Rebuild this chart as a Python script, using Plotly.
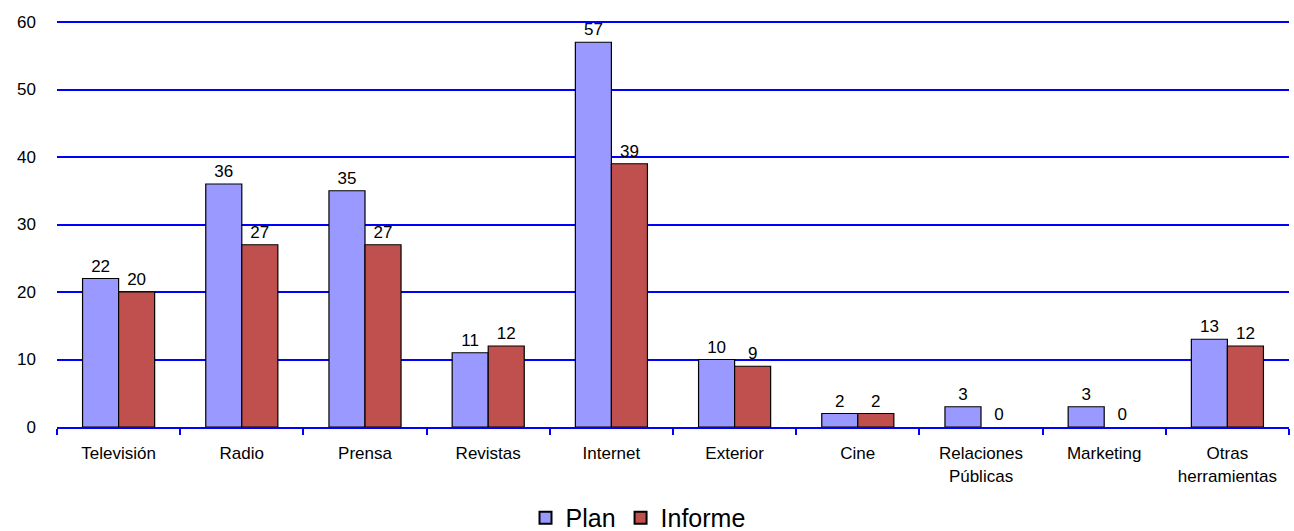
import plotly.graph_objects as go

categorias = ["Televisión", "Radio", "Prensa", "Revistas", "Internet", "Exterior",
              "Cine", "Relaciones<br>Públicas", "Marketing", "Otras<br>herramientas"]
plan = [22, 36, 35, 11, 57, 10, 2, 3, 3, 13]
informe = [20, 27, 27, 12, 39, 9, 2, 0, 0, 12]

FONT = "Liberation Sans, Arial, sans-serif"


def outline_widths(values):
    # no outline for empty bars
    return [1.2 if v else 0 for v in values]


fig = go.Figure()
fig.add_trace(go.Bar(
    x=categorias, y=plan, name="Plan",
    marker=dict(color="#9999FF", line=dict(color="#000000", width=outline_widths(plan))),
    text=plan, textposition="outside", cliponaxis=False,
    textfont=dict(family=FONT, size=17, color="#000000"),
))
fig.add_trace(go.Bar(
    x=categorias, y=informe, name="Informe",
    marker=dict(color="#C0504D", line=dict(color="#000000", width=outline_widths(informe))),
    text=informe, textposition="outside", cliponaxis=False,
    textfont=dict(family=FONT, size=17, color="#000000"),
))

fig.update_layout(
    width=1294, height=531,
    margin=dict(l=57, r=5, t=21, b=104, autoexpand=False),
    paper_bgcolor="white", plot_bgcolor="white",
    barmode="group", bargap=0.415, bargroupgap=0,
    font=dict(family=FONT, size=17, color="#000000"),
    showlegend=True,
    legend=dict(orientation="h", x=0.4716, xanchor="center", y=-0.224, yanchor="middle",
                font=dict(family=FONT, size=25, color="#000000"),
                itemsizing="constant", traceorder="normal", itemwidth=30,
                tracegroupgap=0),
    uniformtext=dict(minsize=17, mode="show"),
)
fig.update_xaxes(
    showgrid=False, showline=True, linecolor="#0000FF", linewidth=2,
    ticks="outside", tickson="boundaries", ticklen=6, tickcolor="#0000FF", tickwidth=2,
    ticklabelstandoff=10,
    tickfont=dict(family=FONT, size=17, color="#000000"),
)
fig.update_yaxes(
    range=[0, 60.15], dtick=10, showgrid=True, gridcolor="#0000FF", gridwidth=1.5,
    showline=False, zeroline=False, ticks="", ticklabelstandoff=20,
    tickfont=dict(family=FONT, size=17, color="#000000"),
)

fig.write_html("out.html")
